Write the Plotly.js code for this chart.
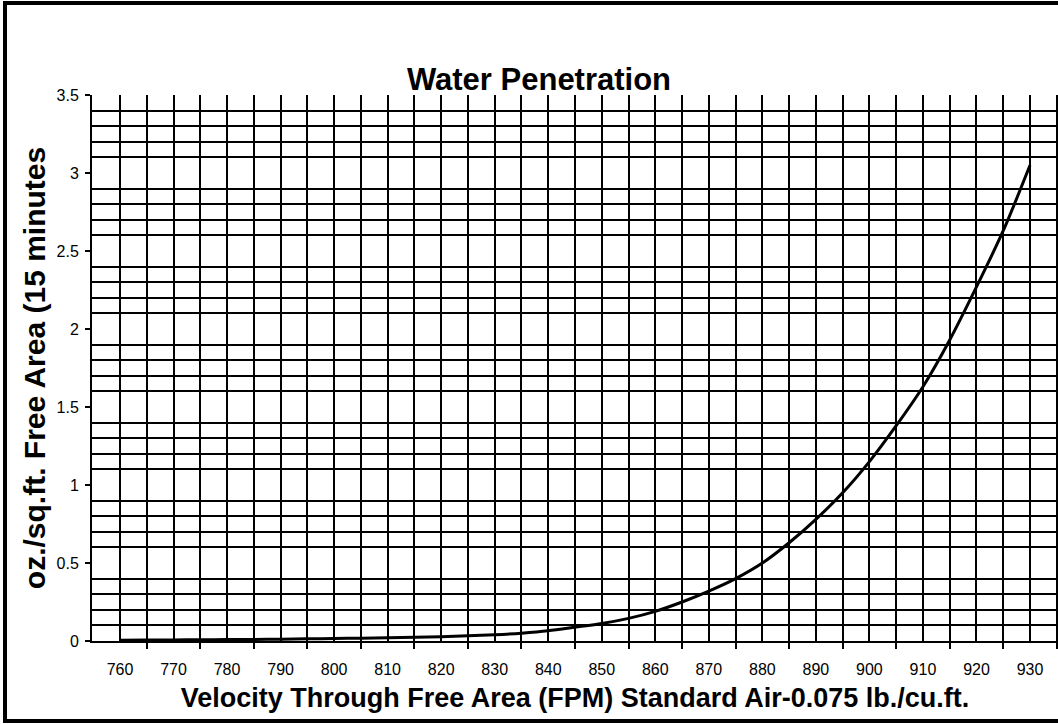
<!DOCTYPE html>
<html>
<head>
<meta charset="utf-8">
<script src="https://cdn.plot.ly/plotly-3.0.1.min.js"></script>
<style>
html,body{margin:0;padding:0;background:#fff;}
#chart{width:1058px;height:724px;}
</style>
</head>
<body>
<div id="chart"></div>
<script>
// Velocity (FPM) and water penetration (oz./sq.ft. per 15 minutes)
const velocity = [760,765,770,775,780,785,790,795,800,805,810,815,820,825,830,835,840,845,850,855,860,865,870,875,880,885,890,895,900,905,910,915,920,925,930];
const penetration = [0.005,0.006,0.007,0.008,0.009,0.010,0.012,0.014,0.016,0.018,0.021,0.024,0.028,0.033,0.040,0.050,0.065,0.088,0.112,0.145,0.19,0.25,0.32,0.40,0.50,0.63,0.78,0.95,1.15,1.38,1.63,1.93,2.27,2.63,3.05];

const xTickVals = [760,770,780,790,800,810,820,830,840,850,860,870,880,890,900,910,920,930];
const xMinorVals = [765,775,785,795,805,815,825,835,845,855,865,875,885,895,905,915,925,935];
const yTickVals = [0,0.5,1,1.5,2,2.5,3,3.5];
const yMajorGrid = [0.5,1,1.5,2,2.5,3];
const yMinorVals = [];
for (let i = 1; i < 35; i++) { if (i % 5 !== 0) yMinorVals.push(i / 10); }

const chartTitle = 'Water Penetration';
const xTitle = 'Velocity Through Free Area (FPM) Standard Air-0.075 lb./cu.ft.';
const yTitle = 'oz./sq.ft. Free Area (15 minutes';

const W = 1058, H = 724;
const L = 92, T = 95, B = 83, R = 0;
const pw = W - L - R, ph = H - T - B;
function px2paperX(p){ return (p - L) / pw; }
function px2paperY(p){ return (H - B - p) / ph; }

const FONT = '"Liberation Sans", Arial, Helvetica, sans-serif';

const trace = {
  x: velocity,
  y: penetration,
  type: 'scatter',
  mode: 'lines',
  line: {color: '#000', width: 3, shape: 'spline', smoothing: 0.8},
  hoverinfo: 'x+y',
  showlegend: false
};

const layout = {
  width: W, height: H,
  margin: {l: L, t: T, b: B, r: R, pad: 0},
  paper_bgcolor: '#fff',
  plot_bgcolor: '#fff',
  font: {family: FONT, color: '#000'},
  title: {
    text: '<b>' + chartTitle + '</b>',
    font: {family: FONT, size: 31, color: '#000'},
    x: 539 / W, xanchor: 'center', xref: 'container',
    y: 1 - 79 / H, yanchor: 'middle', yref: 'container'
  },
  xaxis: {
    range: [754.77, 935.23],
    tickmode: 'array', tickvals: xTickVals,
    ticks: '', showgrid: true, gridcolor: '#000', gridwidth: 2,
    zeroline: false,
    showline: true, linecolor: '#000', linewidth: 2,
    tickfont: {family: FONT, size: 16, color: '#000'},
    ticklabelstandoff: 13,
    minor: {tickmode: 'array', tickvals: xMinorVals, ticks: 'outside', ticklen: 6, tickwidth: 2, tickcolor: '#000',
            showgrid: true, gridcolor: '#000', gridwidth: 2},
    title: {text: '<b>' + xTitle + '</b>', font: {family: FONT, size: 27, color: '#000'}, standoff: 11},
    automargin: false,
    fixedrange: true
  },
  yaxis: {
    range: [0, 3.5],
    tickmode: 'array', tickvals: yTickVals,
    ticktext: yTickVals.map(v => String(v)),
    ticks: 'outside', ticklen: 5, tickwidth: 2, tickcolor: '#000',
    showgrid: false, zeroline: false,
    showline: true, linecolor: '#000', linewidth: 2,
    tickfont: {family: FONT, size: 16, color: '#000'},
    ticklabelstandoff: 3,
    minor: {tickmode: 'array', tickvals: yMinorVals, ticks: '', showgrid: true, gridcolor: '#000', gridwidth: 2},
    title: {text: '<b>' + yTitle + '</b>', font: {family: FONT, size: 30, color: '#000'}, standoff: 2},
    automargin: false,
    fixedrange: true
  },
  yaxis2: {
    range: [0, 3.5], overlaying: 'y', side: 'left',
    tickmode: 'array', tickvals: yMajorGrid,
    showticklabels: false, ticks: '',
    showgrid: true, gridcolor: '#000', gridwidth: 2,
    zeroline: false, showline: false, fixedrange: true
  },
  shapes: [{
    type: 'rect', xref: 'paper', yref: 'paper',
    x0: px2paperX(5), x1: px2paperX(1080),
    y0: px2paperY(721), y1: px2paperY(3),
    line: {color: '#000', width: 4}, fillcolor: 'rgba(0,0,0,0)', layer: 'above'
  }]
};

Plotly.newPlot('chart', [trace], layout, {staticPlot: true, displayModeBar: false});
</script>
</body>
</html>
